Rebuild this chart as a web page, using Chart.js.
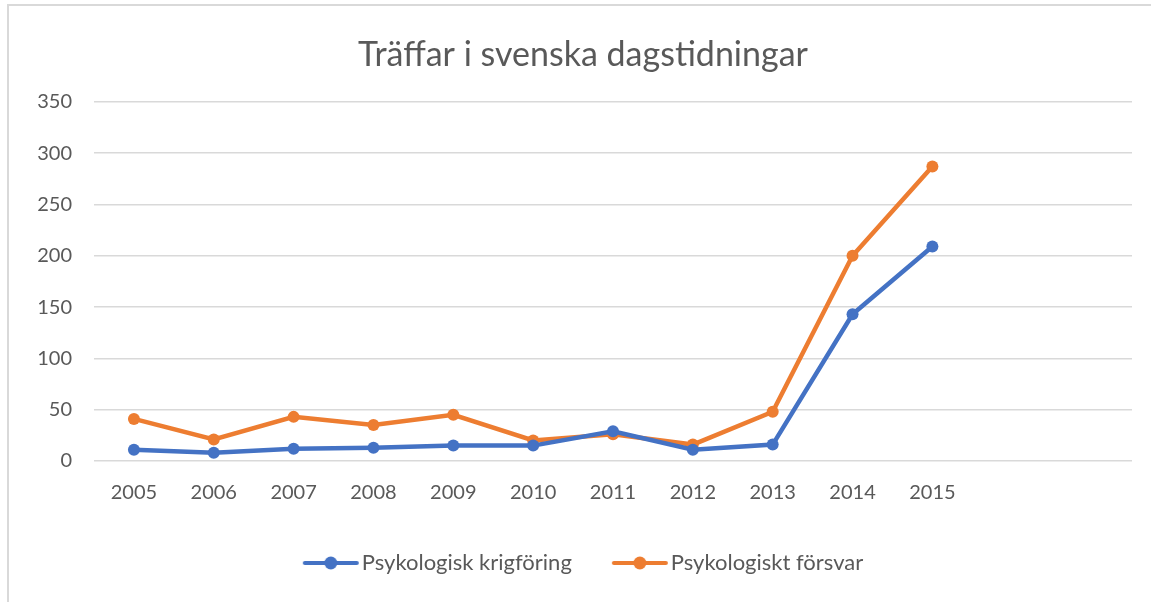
<!DOCTYPE html>
<html>
<head>
<meta charset="utf-8">
<script src="https://cdn.jsdelivr.net/npm/chart.js@4/dist/chart.umd.min.js"></script>
<style>
  html, body { margin: 0; padding: 0; background: #fff; }
  #wrap { position: relative; width: 1151px; height: 602px; overflow: hidden; }
  #frame { position: absolute; left: 7px; top: 4px; width: 1300px; height: 700px;
           border-left: 2px solid #d9d9d9; border-top: 2px solid #d9d9d9; pointer-events: none; }
</style>
</head>
<body>
<div id="wrap">
  <canvas id="c" width="1151" height="602"></canvas>
  <div id="frame"></div>
</div>
<script>
const categories = ['2005','2006','2007','2008','2009','2010','2011','2012','2013','2014','2015','',''];
const krigforing = [11, 8, 12, 13, 15, 15, 29, 11, 16, 143, 209];
const forsvar = [41, 21, 43, 35, 45, 20, 26, 16, 48, 200, 287];
const seriesNames = ['Psykologisk krigföring', 'Psykologiskt försvar'];
const seriesColors = ['#4472C4', '#ED7D31'];
const yTicks = [0, 50, 100, 150, 200, 250, 300, 350];

const FONT = 'Lato, "Noto Sans", sans-serif';
const TEXT = '#595959';

function legendMarker(color) {
  const cv = document.createElement('canvas');
  cv.width = 72; cv.height = 14;
  const g = cv.getContext('2d');
  g.strokeStyle = color; g.lineWidth = 4; g.lineCap = 'round';
  g.beginPath(); g.moveTo(14, 7); g.lineTo(66, 7); g.stroke();
  g.fillStyle = color;
  g.beginPath(); g.arc(40, 7, 6.5, 0, Math.PI * 2); g.fill();
  return cv;
}

const chart = new Chart(document.getElementById('c'), {
  type: 'line',
  data: {
    labels: categories,
    datasets: [krigforing, forsvar].map((d, i) => ({
      label: seriesNames[i],
      data: d,
      borderColor: seriesColors[i],
      backgroundColor: seriesColors[i],
      pointBackgroundColor: seriesColors[i],
      pointBorderColor: seriesColors[i],
      borderWidth: 4.5,
      pointRadius: 6,
      pointBorderWidth: 0,
      tension: 0,
      fill: false
    }))
  },
  options: {
    responsive: false,
    animation: false,
    layout: { padding: { left: 34, right: 19, top: 0, bottom: 18 } },
    plugins: {
      title: {
        display: true,
        text: 'Träffar i svenska dagstidningar',
        color: TEXT,
        font: { family: FONT, size: 34, weight: 'normal' },
        padding: { top: 35, bottom: 26 }
      },
      legend: {
        position: 'bottom',
        labels: {
          color: TEXT,
          font: { family: FONT, size: 22 },
          usePointStyle: true,
          pointStyleWidth: 48,
          boxHeight: 14,
          padding: 40,
          generateLabels: (ch) => ch.data.datasets.map((ds, i) => ({
            text: ds.label,
            pointStyle: legendMarker(seriesColors[i]),
            fillStyle: seriesColors[i],
            strokeStyle: seriesColors[i],
            lineWidth: 0,
            hidden: false,
            datasetIndex: i,
            fontColor: TEXT
          }))
        }
      },
      tooltip: { enabled: false }
    },
    scales: {
      x: {
        offset: true,
        grid: { display: false, drawTicks: false },
        border: { display: false },
        ticks: { color: TEXT, font: { family: FONT, size: 20 }, padding: 20, maxRotation: 0, autoSkip: false },
        afterFit: (s) => { s.height = 51; }
      },
      y: {
        min: 0, max: 350,
        afterBuildTicks: (s) => { s.ticks = yTicks.map(v => ({ value: v })); },
        grid: { color: '#d9d9d9', lineWidth: 1.5, drawTicks: false },
        border: { display: false },
        ticks: { color: TEXT, font: { family: FONT, size: 20 }, padding: 22 },
        afterFit: (s) => { s.width = 60; }
      }
    }
  }
});
</script>
</body>
</html>
